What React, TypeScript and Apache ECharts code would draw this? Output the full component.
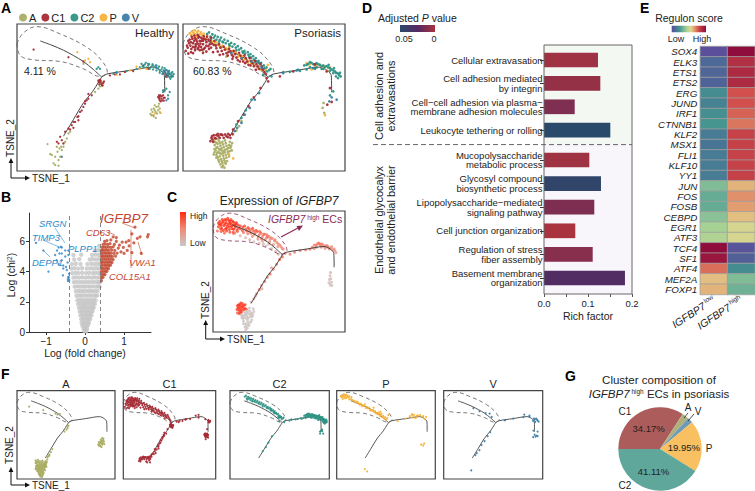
import React, { useEffect, useRef } from "react";
import * as echarts from "echarts";

const FONT = "Liberation Sans";
const clusterNames = ["A", "C1", "C2", "P", "V"];
const clusterColors = ["#a9ad63", "#a52a34", "#2f9385", "#f6b23c", "#3d7fa8"];

const trajUpper = [[70,392],[105,379],[140,364],[170,348],[200,330],[230,306],[255,283]];
const trajLower = [[255,283],[228,240],[200,205],[170,155],[140,105]];
const trajRight = [[255,283],[270,292],[340,303],[408,313],[432,303],[444,287],[445,237]];
const hull = [[0,383],[18,415],[60,435],[130,413],[210,373],[255,333],[272,298],[250,285],[200,308],[130,330],[50,335],[10,348],[0,383]];

const healthyA = [[92,81],[100,51],[105,48],[110,23],[115,18],[125,16],[115,43],[122,58],[135,63],[130,43],[125,33],[140,83],[145,88],[155,113],[160,118],[150,98],[133,73],[140,73],[128,68],[120,73],[410,168],[415,183],[420,193],[408,178],[425,183],[415,198],[422,173],[430,188],[412,188],[405,168],[428,203],[250,263],[245,248],[255,268],[235,238],[250,255],[200,323],[402,172],[412,165],[418,178],[426,195],[405,185],[432,175],[418,160]];
const healthyC1 = [[50,366],[155,343],[200,330],[245,273],[250,268],[255,263],[260,265],[248,261],[225,228],[215,218],[210,213],[200,193],[190,178],[182,163],[175,148],[165,138],[185,153],[155,128],[145,118],[130,103],[120,88],[135,93],[140,83],[125,83],[170,148],[205,203],[280,288],[295,291],[310,291],[325,298],[350,301],[380,318],[395,308],[430,223],[435,218],[440,228],[428,218],[445,221],[450,288],[452,285],[448,291],[430,213],[438,213],[425,223],[432,228],[442,220],[436,225],[428,228],[433,210],[442,212],[454,288],[449,284],[456,292],[446,296],[252,272],[258,258],[246,268],[262,270],[256,258],[250,275],[215,232],[205,210],[195,182],[185,165],[170,130],[160,125]];
const healthyC2 = [[375,323],[385,321],[395,318],[405,315],[415,313],[425,310],[435,306],[445,301],[455,298],[465,295],[468,288],[460,283],[450,293],[440,298],[420,303],[400,308],[382,313],[370,313],[460,291],[455,285],[465,283],[300,298],[290,293],[330,301],[250,308],[245,313],[240,308],[445,243],[455,228],[440,238],[450,248],[410,318],[430,302],[390,312],[360,308],[378,316],[388,326],[398,322],[408,322],[418,318],[428,315],[438,312],[448,305],[458,302],[468,298],[472,292],[470,285],[462,278],[455,292],[445,310],[430,296],[410,306]];
const healthyP = [[182,358],[215,338],[220,328],[205,333],[340,303],[370,308],[390,308],[430,178],[415,173],[360,315],[300,290]];
const healthyV = [[460,238],[455,218],[450,213],[135,43],[300,295],[395,323],[420,318],[457,298],[465,288],[440,243],[420,312],[445,298],[452,303],[438,292],[460,293],[448,287],[442,303]];

const psoriasisA = [[60,363],[130,345],[190,328],[212,325],[92,93],[100,85],[108,90],[118,88],[128,84],[138,78],[95,78],[103,72],[112,76],[122,72],[132,66],[142,70],[98,62],[106,58],[115,62],[125,56],[135,52],[100,48],[110,44],[120,46],[130,40],[106,34],[116,30],[124,32],[112,20],[120,16],[128,22],[92,50],[140,60],[147,84],[94,66],[110,66],[121,60],[114,52],[104,82],[126,92],[150,110],[160,122],[168,135],[175,150],[423,175],[418,190],[421,205],[96,88],[104,96],[112,84],[120,80],[130,76],[136,70],[144,76],[100,70],[108,66],[116,68],[126,64],[134,58],[94,56],[102,54],[110,54],[120,54],[128,48],[138,44],[146,62],[104,42],[114,36],[122,38],[132,30],[108,28],[118,24],[126,26],[116,12],[124,10],[100,40],[140,88]];
const psoriasisC1 = [[8,362],[12,378],[20,396],[25,368],[30,385],[36,400],[36,372],[42,390],[48,378],[48,405],[55,392],[56,366],[60,382],[64,398],[66,372],[70,388],[72,405],[76,376],[26,405],[18,385],[38,382],[50,392],[44,368],[60,392],[82,392],[84,372],[92,380],[100,370],[108,382],[116,362],[122,375],[130,355],[138,368],[146,350],[152,362],[160,342],[168,356],[176,338],[184,348],[192,330],[200,340],[208,325],[216,332],[224,315],[232,322],[240,305],[248,292],[70,360],[90,358],[110,350],[30,355],[250,280],[255,270],[95,100],[100,108],[106,105],[115,110],[122,100],[130,105],[135,112],[142,100],[82,90],[90,88],[87,105],[150,125],[165,150],[182,170],[196,195],[212,222],[232,250],[290,285],[330,300],[395,322],[430,300],[440,250],[432,200],[445,208],[14,372],[22,378],[30,374],[38,376],[46,372],[54,374],[62,368],[70,378],[78,368],[86,384],[16,392],[24,388],[34,392],[44,384],[52,384],[58,398],[68,396],[76,396],[84,402],[28,398],[40,396],[46,402],[54,402],[62,406],[34,408],[44,410],[80,382],[94,392],[98,378],[50,364],[36,364],[24,358],[60,356],[16,354],[104,360],[112,372],[126,366],[134,348],[142,360],[150,345],[156,352],[164,334],[172,348],[180,330],[188,340],[196,320],[204,332],[212,316],[220,322],[228,308],[236,314],[244,298],[120,352],[136,358],[148,338],[170,330],[186,325],[202,318],[218,305],[85,100],[92,108],[98,98],[110,100],[118,108],[126,110],[134,102],[140,108],[148,112],[88,95],[104,112],[112,110]];
const psoriasisC2 = [[72,413],[82,405],[92,402],[100,396],[110,395],[118,390],[128,385],[138,382],[148,375],[158,372],[168,366],[178,360],[186,354],[196,350],[204,342],[212,336],[220,330],[228,325],[236,316],[244,310],[252,300],[262,308],[265,285],[240,290],[205,215],[175,160],[188,183],[160,140],[363,318],[375,323],[385,326],[395,320],[405,322],[415,316],[425,314],[435,312],[445,306],[455,300],[462,295],[468,288],[458,285],[450,295],[440,302],[420,308],[400,312],[380,313],[300,298],[320,299],[345,305],[450,240],[440,228],[78,418],[88,412],[96,408],[104,404],[114,402],[124,396],[134,392],[144,386],[154,382],[164,376],[174,370],[184,362],[194,358],[202,352],[210,346],[218,340],[226,332],[234,326],[242,318],[250,312],[258,304],[120,388],[140,378],[160,364],[180,356],[198,344],[216,330],[236,308],[84,398],[108,390],[370,320],[380,328],[390,322],[400,325],[410,320],[420,318],[430,316],[440,310],[450,303],[458,296],[466,292],[472,285],[464,280],[470,296],[452,310],[436,320],[415,308],[395,308],[370,306],[350,302]];
const psoriasisP = [[25,410],[32,415],[42,418],[50,412],[58,410],[40,406],[30,402],[70,400],[78,396],[88,390],[98,388],[108,378],[118,378],[128,370],[138,374],[148,362],[158,358],[168,348],[178,346],[188,340],[198,332],[208,330],[218,322],[228,316],[238,310],[248,305],[254,320],[72,410],[62,400],[370,325],[380,322],[395,318],[410,320],[425,315],[440,312],[432,302],[385,306],[425,168],[150,38],[138,50],[20,415],[28,420],[36,424],[46,422],[54,418],[62,414],[36,412],[46,406],[84,392],[94,384],[104,384],[114,372],[124,366],[134,366],[144,356],[154,354],[164,344],[174,342],[184,336],[194,328],[204,324],[214,316],[224,310],[234,304],[244,298],[400,318],[418,312],[372,320]];
const psoriasisV = [[145,355],[175,340],[205,330],[225,328],[235,312],[175,145],[185,170],[200,190],[215,215],[228,235],[155,120],[162,130],[390,310],[445,222],[438,210],[460,215],[300,295],[340,303]];

const exprLow = [[110,50,.05],[118,70,.05],[126,56,.05],[134,66,.05],[142,56,.05],[104,62,.05],[112,30,.05],[122,22,.05],[130,28,.05],[138,36,.05],[116,60,.05],[128,78,.05],[140,68,.05],[120,8,.05],[146,60,.05],[150,75,.05],[106,52,.05],[433,195,.1],[426,180,.1],[431,172,.1]];
const exprPts = [
[108,60,.05],[115,52,.05],[122,62,.05],[130,50,.05],[138,58,.05],[112,40,.05],[120,30,.05],[128,38,.05],[118,18,.05],[126,14,.05],[106,72,.08],[116,76,.05],[126,70,.05],[136,76,.05],[145,68,.05],[148,85,.05],[132,24,.05],[142,44,.05],[124,48,.05],[134,88,.05],
[430,206,.1],[435,182,.1],[428,192,.1],[437,170,.05],[432,218,.2],[140,110,.15],[150,122,.3],
[120,345,.15],[150,330,.1],[170,325,.1],[195,315,.1],[215,305,.15],[100,352,.2],[75,360,.25],[135,338,.2],[185,322,.15],[230,295,.2],[240,285,.2],
[160,140,.5],[170,155,.6],[178,170,.45],[190,185,.65],[200,200,.5],[210,212,.7],[222,230,.55],[234,248,.6],[245,265,.8],[255,275,.7],[265,288,.6],[156,132,.2],[180,158,.25],[215,235,.3],
[283,285,.55],[300,292,.6],[320,298,.5],[340,300,.55],[356,303,.6],[372,318,.5],[384,322,.65],[393,322,.7],[405,318,.5],[415,316,.55],[423,310,.6],[432,308,.45],[440,302,.5],[448,297,.45],[398,310,.35],[412,306,.4],[380,310,.4],
[258,303,.5],[250,312,.45],[240,322,.55],[234,328,.5],[226,334,.55],[218,342,.5],[210,340,.45],[205,350,.6],[196,345,.5],[198,356,.65],[190,358,.6],[182,350,.55],[176,362,.7],[170,356,.6],[163,368,.75],[155,362,.6],[149,370,.8],[142,376,.7],[135,370,.7],[128,382,.8],[120,376,.75],[110,384,.85],[100,388,.85],[92,380,.85],
[20,385,.9],[27,395,1],[32,380,.9],[38,405,1],[40,390,1],[46,378,1],[48,400,1],[52,388,1],[58,408,1],[60,375,.95],[63,398,1],[68,386,1],[72,405,1],[76,376,1],[80,392,1],[86,400,1],[88,372,.95],[44,412,.9],[54,416,.95],[66,412,.9],[30,368,.8],[16,370,.7],[42,362,.7],[25,405,.9],
[94,100,1],[98,90,1],[104,82,1],[110,94,1],[116,86,1],[100,72,.95],[118,100,.9],[96,80,1],[108,104,.9],[122,84,.9],[90,70,.7]
];
const exprMid = [[100,378,.8],[108,372,.8],[116,388,.85],[124,370,.75],[132,378,.8],[140,362,.7],[146,380,.8],[152,358,.7],[158,372,.8],[166,348,.6],[172,368,.75],[178,340,.55],[186,358,.7],[192,338,.55],[200,348,.65],[208,330,.5],[214,345,.55],[222,320,.45],[228,338,.55],[238,312,.45],[246,318,.5],[254,306,.45],[112,364,.65],[128,360,.6],[145,350,.5],[165,340,.4],[205,322,.3],[182,332,.35],[90,368,.7],[80,362,.55],[365,310,.55],[378,318,.6],[388,326,.65],[400,322,.6],[410,312,.5],[420,316,.6],[428,304,.5],[436,312,.5],[445,304,.45],[452,290,.35],[395,316,.6],[372,305,.45]];
const exprHigh = [[22,395,1],[30,390,1],[34,400,1],[44,395,1],[50,380,1],[56,395,1],[60,385,1],[66,395,1],[70,378,1],[74,392,1],[82,384,1],[84,395,1],[92,392,.95],[28,378,.95],[38,372,.95],[50,370,.95],[62,365,.85],[74,365,.85],[20,400,.85],[34,412,.95],[48,410,1],[62,405,1],[76,402,1],[92,88,1],[100,100,1],[106,92,1],[112,82,.95],[96,68,.9],[104,74,.9],[88,82,.85],[90,96,1],[114,98,.9],[102,106,.9]];

const volcanoGrey = [[-.02,.05],[.03,.05],[-.04,.2],[0,.22],[.05,.2],[-.07,.4],[-.02,.42],[.03,.4],[.07,.42],[-.09,.6],[-.04,.62],[.01,.6],[.06,.62],[.1,.6],[-.1,.85],[-.05,.87],[0,.85],[.05,.87],[.09,.85],[.13,.86],[-.12,1.1],[-.07,1.12],[-.02,1.1],[.03,1.12],[.08,1.1],[.13,1.12],[.16,1.1],[-.14,1.35],[-.09,1.37],[-.04,1.35],[.01,1.37],[.06,1.35],[.11,1.37],[.16,1.35],[.19,1.36],[-.16,1.6],[-.1,1.62],[-.05,1.6],[0,1.62],[.05,1.6],[.1,1.62],[.15,1.6],[.2,1.62],[.22,1.6],[-.18,1.85],[-.12,1.87],[-.06,1.85],[-.01,1.87],[.05,1.85],[.11,1.87],[.16,1.85],[.21,1.87],[.25,1.85],[-.2,2.1],[-.14,2.12],[-.08,2.1],[-.02,2.12],[.04,2.1],[.1,2.12],[.16,2.1],[.22,2.12],[.27,2.1],[-.22,2.4],[-.16,2.42],[-.1,2.4],[-.04,2.42],[.03,2.4],[.09,2.42],[.15,2.4],[.21,2.42],[.27,2.4],[.31,2.42],[-.24,2.7],[-.17,2.72],[-.11,2.7],[-.05,2.72],[.01,2.7],[.08,2.72],[.14,2.7],[.2,2.72],[.26,2.7],[.32,2.72],[-.27,3],[-.2,3.02],[-.13,3],[-.06,3.02],[0,3],[.07,3.02],[.13,3],[.2,3.02],[.27,3],[.33,3.02],[.37,3],[-.29,3.3],[-.22,3.32],[-.14,3.3],[-.07,3.32],[0,3.3],[.07,3.32],[.14,3.3],[.21,3.32],[.28,3.3],[.34,3.32],[.38,3.3],[-.3,3.6],[-.23,3.62],[-.15,3.6],[-.07,3.62],[.01,3.6],[.09,3.62],[.17,3.6],[.24,3.62],[.31,3.6],[.38,3.62],[-.33,3.9],[-.25,3.92],[-.17,3.9],[-.08,3.92],[.02,3.9],[.1,3.92],[.19,3.9],[.26,3.92],[.33,3.9],[.38,3.92],[-.35,4.2],[-.27,4.22],[-.18,4.2],[-.08,4.22],[.04,4.2],[.13,4.22],[.21,4.2],[.29,4.22],[.36,4.2],[-.34,4.5],[-.24,4.52],[-.12,4.5],[.06,4.5],[.16,4.52],[.24,4.5],[.32,4.52],[.38,4.5],[-.28,4.8],[-.15,4.82],[.12,4.8],[.2,4.82],[.28,4.8],[.36,4.82],[-.3,5.1],[-.1,5.12],[.18,5.1],[.27,5.12],[.35,5.1],[.25,5.4],[.33,5.42],[.38,5.4],[.36,5.7]];
const volcanoRed = [[.42,3.4],[.42,3.6],[.46,3.62],[.42,3.8],[.47,3.82],[.51,3.8],[.42,4],[.47,4.02],[.52,4],[.56,4.02],[.42,4.2],[.46,4.22],[.51,4.2],[.56,4.22],[.6,4.2],[.42,4.4],[.47,4.42],[.52,4.4],[.56,4.42],[.61,4.4],[.65,4.42],[.42,4.6],[.46,4.62],[.51,4.6],[.56,4.62],[.6,4.6],[.65,4.62],[.69,4.6],[.42,4.8],[.47,4.82],[.52,4.8],[.57,4.82],[.62,4.8],[.67,4.82],[.72,4.8],[.42,5],[.46,5.02],[.51,5],[.56,5.02],[.6,5],[.65,5.02],[.7,5],[.78,5.02],[.42,5.2],[.47,5.22],[.52,5.2],[.57,5.22],[.62,5.2],[.67,5.22],[.74,5.2],[.82,5.22],[.42,5.4],[.46,5.42],[.51,5.4],[.56,5.42],[.61,5.4],[.68,5.42],[.76,5.4],[.44,5.6],[.49,5.62],[.54,5.6],[.6,5.62],[.66,5.6],[.72,5.64],[.85,5.55],[.92,5.3],[1,5.2],[.46,5.8],[.52,5.82],[.58,5.8],[.64,5.85],[.75,5.8],[.88,5.75],[.98,5.6],[1.08,5.4],[.5,6],[.56,6.05],[.66,6.1],[.8,6],[.95,5.95],[.72,6.3],[.8,6.25],[1.13,5.7],[1.05,5.95],[1.2,5.25],[1.25,5.9],[1.41,6.3],[1.34,6.2],[1.28,6.95],[1.62,6.45],[1.6,6.3],[1.2,6.5],[1.12,6.05],[1.44,5.2]];
const volcanoBlue = [[-1.26,5.9],[-1.07,5.4],[-.94,4],[-.68,5.6],[-.6,5.6],[-.77,5.1],[-.73,4.75],[-.68,4.5],[-.6,4.75],[-.51,5],[-.43,5.4],[-.51,5.4],[-.56,4.4],[-.49,4.3],[-.57,3.75],[-.56,4.2],[-.43,3.65],[-.41,3.42],[-.44,3.38],[-.41,3.86],[-.47,4.1],[-.6,5.2],[-.66,5.2],[-.43,5.1],[-.62,5.65],[-.44,3.5],[-.42,3.6],[-.45,4.6],[-.72,5.4]];

const barTopNames = ["Cellular extravasation","Cell adhesion mediated\nby integrin","Cell\u2212cell adhesion via plasma\u2212\nmembrane adhesion molecules","Leukocyte tethering or rolling"];
const barTopValues = [.1227,.128,.0698,.1507];
const barTopP = [.003,.006,.0125,.05];
const barBottomNames = ["Mucopolysaccharide\nmetabolic process","Glycosyl compound\nbiosynthetic process","Lipopolysaccharide\u2212mediated\nsignaling pathway","Cell junction organization","Regulation of stress\nfiber assembly","Basement membrane\norganization"];
const barBottomValues = [.103,.1295,.1143,.0711,.1107,.184];
const barBottomP = [.003,.046,.013,0,.01,.027];

const genes = ["SOX4","ELK3","ETS1","ETS2","ERG","JUND","IRF1","CTNNB1","KLF2","MSX1","FLI1","KLF10","YY1","JUN","FOS","FOSB","CEBPD","EGR1","ATF3","TCF4","SF1","ATF4","MEF2A","FOXP1"];
const scoreLow = [0,.09,.08,.07,.2,.17,.21,.23,.15,.13,.15,.15,.15,.36,.3,.3,.38,.44,.46,1,.96,.73,.6,.62];
const scoreHigh = [1,.87,.89,.89,.78,.78,.75,.72,.82,.82,.82,.82,.82,.62,.68,.66,.6,.53,.53,.02,.06,.2,.36,.32];
const spectral = ["#5b4f9b","#4a6f96","#44938f","#74b596","#a8d295","#e3d68e","#e2996e","#d2504c","#ac2a42","#8e0d3c"];

const pieNames = ["C1","A","V","P","C2"];
const pieValues = [34.17,2.6,2.17,19.95,41.11];
const pieColors = ["#ad5c5c","#b0b07c","#6d9ab5","#f8c060","#5fa79b"];
const pieShown = ["34.17%","","","19.95%","41.11%"];

const fPanels = [[17,115],[123.3,215.7],[230,329.3],[336.7,435.3],[443.7,542.7]];

function t(text: string, x: number, y: number, o: any = {}) {
  const { rotation, ...st } = o;
  return {
    type: "text", x, y, z: 100, rotation: rotation || 0, silent: true,
    style: { text, fontFamily: FONT, fontSize: 10, fill: "#222", align: "left", verticalAlign: "middle", textAlign: st.align || "left", textVerticalAlign: "middle", ...st },
  };
}
function ln(x1: number, y1: number, x2: number, y2: number, stroke = "#222", lineWidth = 0.8) {
  return { type: "line", z: 100, silent: true, shape: { x1, y1, x2, y2 }, style: { stroke, lineWidth } };
}
function arrowHead(x: number, y: number, dir: string, fill = "#111") {
  const s = 2.4, l = 5;
  const pts = dir === "up" ? [[x, y - l], [x - s, y], [x + s, y]] : [[x + l, y], [x, y - s], [x, y + s]];
  return { type: "polygon", z: 100, silent: true, shape: { points: pts }, style: { fill } };
}
function axesCross(x: number, y: number, top: number, right: number, t2y: number, t2x: number) {
  return [ln(x, y, x, top + 5, "#111", 1), ln(x, y, right - 5, y, "#111", 1), arrowHead(x, top + 5, "up"), arrowHead(right - 5, y, "right"),
    t("TSNE_2", t2x, t2y, { rotation: Math.PI / 2, align: "center", fontSize: 10 }), t("TSNE_1", right + 2, y, { fontSize: 10 })];
}
const panelLetter = (s: string, x: number, y: number) => t(s, x, y, { fontSize: 14, fontWeight: "bold", fill: "#000" });

export default function App() {
  const ref = useRef<HTMLDivElement>(null);
  useEffect(() => {
    document.body.style.margin = "0";
    const chart = echarts.init(ref.current!, undefined, { renderer: "svg" });
    const grids: any[] = [], xAxes: any[] = [], yAxes: any[] = [], series: any[] = [];
    const frame = { show: true, borderColor: "#444", borderWidth: 1.2, backgroundColor: "transparent" };
    const addTsne = (left: number, right: number, top: number, bottom: number) => {
      grids.push({ ...frame, left, top, width: right - left, height: bottom - top });
      xAxes.push({ type: "value", show: false, min: 0, max: 485, gridIndex: grids.length - 1 });
      yAxes.push({ type: "value", show: false, min: 0, max: 443, gridIndex: grids.length - 1 });
      return grids.length - 1;
    };
    const addPath = (g: number, hullColor: string, lw = 1) => {
      [trajUpper, trajLower, trajRight].forEach((d, i) => series.push({ type: "line", name: "trajectory" + i, xAxisIndex: g, yAxisIndex: g, data: d, smooth: 0.3, showSymbol: false, symbol: "none", lineStyle: { color: "#444", width: lw }, z: 3, silent: true }));
      series.push({ type: "line", name: "region", xAxisIndex: g, yAxisIndex: g, data: hull, smooth: 0.4, showSymbol: false, symbol: "none", lineStyle: { color: hullColor, width: 0.8, type: [4, 3] }, z: 4, silent: true });
    };
    const addCell = (g: number, i: number, d: number[][], size: number) => {
      series.push({ type: "scatter", name: clusterNames[i], xAxisIndex: g, yAxisIndex: g, data: d, symbolSize: size, itemStyle: { color: clusterColors[i], opacity: 0.95 }, z: 5, silent: true });
    };
    const healthy = [healthyA, healthyC1, healthyC2, healthyP, healthyV];
    const psoriasis = [psoriasisA, psoriasisC1, psoriasisC2, psoriasisP, psoriasisV];

    const g0 = addTsne(17, 178, 24, 171);
    [0, 1, 2, 3, 4].forEach((i) => addCell(g0, i, healthy[i], 2.3));
    addPath(g0, "#555");
    const g1 = addTsne(183, 345, 24, 171);
    [0, 3, 2, 1, 4].forEach((i) => addCell(g1, i, psoriasis[i], 2.7));
    addPath(g1, "#555");

    // volcano
    grids.push({ left: 29, top: 213, width: 122, height: 119 });
    const gB = grids.length - 1;
    xAxes.push({ type: "value", gridIndex: gB, min: -1.44, max: 1.69, splitLine: { show: false }, axisLine: { onZero: false, lineStyle: { color: "#333" } }, axisTick: { length: 3, customValues: [-1, 0, 1], lineStyle: { color: "#333" } }, axisLabel: { customValues: [-1, 0, 1], fontSize: 10, color: "#222", margin: 4, fontFamily: FONT, formatter: (v: number) => (v < 0 ? "\u2212" + -v : "" + v) } });
    yAxes.push({ type: "value", gridIndex: gB, min: 0, max: 7.88, splitLine: { show: false }, axisLine: { show: true, onZero: false, lineStyle: { color: "#333" } }, axisTick: { show: true, length: 3, customValues: [0, 2, 4, 6], lineStyle: { color: "#333" } }, axisLabel: { customValues: [0, 2, 4, 6], fontSize: 10, color: "#222", margin: 4, fontFamily: FONT } });
    series.push({ type: "scatter", name: "Not significant", xAxisIndex: gB, yAxisIndex: gB, data: volcanoGrey, symbolSize: 4.4, itemStyle: { color: "#c6c6c6" }, z: 2, silent: true,
      markLine: { silent: true, symbol: "none", label: { show: false }, lineStyle: { color: "#777", type: [4, 3], width: 0.9 }, data: [{ xAxis: -0.4 }, { xAxis: 0.4 }] } });
    series.push({ type: "scatter", name: "Up", xAxisIndex: gB, yAxisIndex: gB, data: volcanoRed, symbolSize: 3.2, itemStyle: { color: "#c0432a" }, z: 3, silent: true });
    series.push({ type: "scatter", name: "Down", xAxisIndex: gB, yAxisIndex: gB, data: volcanoBlue, symbolSize: 2.4, itemStyle: { color: "#2b84c6" }, z: 3, silent: true });

    // expression
    const gC = addTsne(213, 345, 211, 332);
    addPath(gC, "#8b2a57");
    const exprIndex = series.length;
    series.push({ type: "scatter", name: "Expression", xAxisIndex: gC, yAxisIndex: gC, data: exprLow.concat(exprPts, exprMid, exprHigh), symbolSize: 3, z: 2, silent: true });

    // bars
    const barGrid = (top: number, height: number, names: string[], last: boolean) => {
      grids.push({ left: 544, top, width: 88, height });
      const g = grids.length - 1;
      xAxes.push({
        type: "value", gridIndex: g, min: 0, max: 0.2, interval: 0.05, show: last, offset: last ? 4.2 : 0, splitLine: { show: false },
        axisLine: { show: false }, axisTick: { show: true, length: 3, lineStyle: { color: "#555" } },
        axisLabel: { fontSize: 9.5, color: "#222", margin: 4, fontFamily: FONT, formatter: (v: number) => (Math.round(v * 100) % 10 === 0 ? v.toFixed(1) : "") },
        name: "Rich factor", nameLocation: "middle", nameGap: 16, nameTextStyle: { fontSize: 10.5, color: "#222", fontFamily: FONT },
      });
      yAxes.push({
        type: "category", gridIndex: g, inverse: true, data: names, axisLine: { show: false },
        axisTick: { show: true, length: 4, alignWithLabel: true, lineStyle: { color: "#333" } },
        axisLabel: { fontSize: 9.5, lineHeight: 9.6, color: "#222", margin: 1.5, align: "right", fontFamily: FONT, interval: 0 },
      });
      return g;
    };
    const gD1 = barGrid(48.3, 93.6, barTopNames, false);
    const gD2 = barGrid(148.2, 141.6, barBottomNames, true);
    const barIndex = [series.length, series.length + 1];
    series.push({ type: "bar", name: "Adhesion", xAxisIndex: gD1, yAxisIndex: gD1, barWidth: 14.7, z: 2, silent: true, encode: { x: 0, y: 1 }, data: barTopValues.map((v, i) => [v, barTopNames[i], barTopP[i]]) });
    series.push({ type: "bar", name: "Barrier", xAxisIndex: gD2, yAxisIndex: gD2, barWidth: 14.7, z: 2, silent: true, encode: { x: 0, y: 1 }, data: barBottomValues.map((v, i) => [v, barBottomNames[i], barBottomP[i]]) });

    // heatmap
    grids.push({ left: 700.3, top: 46.5, width: 54.5, height: 248 });
    const gE = grids.length - 1;
    const heatCats = ["low", "high"];
    xAxes.push({ type: "category", gridIndex: gE, data: heatCats, axisLine: { show: false }, axisTick: { show: false },
      axisLabel: { interval: 0, rotate: 33, margin: 4, formatter: (v: string) => "{i|IGFBP7}{s| " + v + "}", rich: { i: { fontStyle: "italic", fontSize: 10.5, color: "#222", fontFamily: FONT }, s: { fontSize: 6.5, color: "#222", verticalAlign: "top", fontFamily: FONT, padding: [0, 0, 6, 0] } } } });
    yAxes.push({ type: "category", gridIndex: gE, inverse: true, data: genes, axisLine: { show: false }, axisTick: { show: false },
      axisLabel: { interval: 0, fontStyle: "italic", fontSize: 9.8, color: "#222", margin: 3, fontFamily: FONT } });
    const heatIndex = series.length;
    const heatData: number[][] = [];
    genes.forEach((_, i) => { heatData.push([0, i, scoreLow[i]]); heatData.push([1, i, scoreHigh[i]]); });
    series.push({ type: "heatmap", name: "Regulon", xAxisIndex: gE, yAxisIndex: gE, data: heatData, itemStyle: { borderColor: "#a0a0a0", borderWidth: 0.8 }, silent: true });

    // F panels
    fPanels.forEach(([l, r], i) => {
      const g = addTsne(l, r, 390.7, 479);
      addPath(g, "#555", 0.9);
      addCell(g, i, healthy[i].concat(psoriasis[i]), 2);
    });

    // pie
    series.push({ type: "pie", name: "Cluster composition", center: [660, 449], radius: 41.7, startAngle: 180, clockwise: true, silent: true, z: 2,
      data: pieNames.map((n, i) => ({ name: n, value: pieValues[i], itemStyle: { color: pieColors[i] }, label: { show: !!pieShown[i], formatter: pieShown[i] } })),
      label: { position: "inside", fontSize: 9.5, color: "#222", fontFamily: FONT }, labelLine: { show: false } });

    const lin = (a: number[], stops: string[]) => new echarts.graphic.LinearGradient(a[0], a[1], a[2], a[3], stops.map((c, i) => ({ offset: i / (stops.length - 1), color: c })));
    const graphics: any[] = [
      { type: "rect", z: -10, silent: true, shape: { x: 544, y: 45, width: 88, height: 99.5 }, style: { fill: "#f3f8f2" } },
      { type: "rect", z: -10, silent: true, shape: { x: 544, y: 144.5, width: 88, height: 149.5 }, style: { fill: "#f9f6fb" } },
      { type: "rect", z: 50, silent: true, shape: { x: 544, y: 45, width: 88, height: 249 }, style: { fill: "none", stroke: "#6b6666", lineWidth: 1 } },
      { type: "line", z: 60, silent: true, shape: { x1: 373, y1: 144.6, x2: 632, y2: 144.6 }, style: { stroke: "#666", lineWidth: 1, lineDash: [5, 3] } },
      panelLetter("A", 1, 8), panelLetter("B", 1, 197), panelLetter("C", 167, 197), panelLetter("D", 362, 8), panelLetter("E", 640, 8), panelLetter("F", 1, 374), panelLetter("G", 565, 376),
      t("Healthy", 174, 33, { align: "right", fontSize: 11.5 }), t("Psoriasis", 341, 33, { align: "right", fontSize: 11.5 }),
      t("4.11 %", 24, 71, { fontSize: 10.5 }), t("60.83 %", 193, 71, { fontSize: 10.5 }),
      ...axesCross(11, 178, 158, 30, 138, 10),
      ...axesCross(205.7, 339, 320, 225, 300, 205.7),
      ...axesCross(11, 485, 467, 30, 445, 9.5),
      t("{a|Log (chi}{s|2}{a|)}", 11, 275, { rotation: Math.PI / 2, align: "center", rich: { a: { fontSize: 10.5, fill: "#222", fontFamily: FONT }, s: { fontSize: 6.5, fill: "#222", fontFamily: FONT, verticalAlign: "top" } } }),
      t("Log (fold change)", 85, 353, { align: "center", fontSize: 10.5 }),
      t("IGFBP7", 100, 218, { fontStyle: "italic", fontSize: 13.5, fill: "#c4452f" }), ln(122, 223, 135, 228, "#c4452f", 0.6),
      t("CD63", 86, 232, { fontStyle: "italic", fontSize: 9.5, fill: "#c4452f" }), ln(108, 232, 115, 235, "#c4452f", 0.6),
      t("VWA1", 129, 262, { fontStyle: "italic", fontSize: 9.5, fill: "#c4452f" }), ln(142, 255, 138, 242, "#c4452f", 0.6),
      t("COL15A1", 109, 276, { fontStyle: "italic", fontSize: 9.5, fill: "#c4452f" }), ln(131, 268, 131, 230, "#c4452f", 0.6),
      t("SRGN", 39, 223, { fontStyle: "italic", fontSize: 9.5, fill: "#2a8ccc" }), ln(55, 228, 65, 243, "#2a8ccc", 0.6),
      t("TIMP3", 32, 237, { fontStyle: "italic", fontSize: 9.5, fill: "#2a8ccc" }), ln(43, 240, 59, 247, "#2a8ccc", 0.6),
      t("PLPP1", 68, 248, { fontStyle: "italic", fontSize: 9.5, fill: "#2a8ccc" }),
      t("DEPP1", 32, 262, { fontStyle: "italic", fontSize: 9.5, fill: "#2a8ccc" }), ln(43, 250, 50, 257, "#2a8ccc", 0.6),
      t("{a|Expression of }{b|IGFBP7}", 279, 201, { align: "center", rich: { a: { fontSize: 12, fill: "#222", fontFamily: FONT }, b: { fontSize: 12, fontStyle: "italic", fill: "#222", fontFamily: FONT } } }),
      { type: "rect", z: 50, silent: true, shape: { x: 180, y: 212, width: 6, height: 34 }, style: { fill: lin([0, 0, 0, 1], ["#ff2a10", "#f08a78", "#c8c8c8"]) } },
      t("High", 190, 216, { fontSize: 8.5 }), t("Low", 190, 243, { fontSize: 8.5 }),
      t("{i|IGFBP7}{s| high}{a| ECs}", 268, 219, { rich: { i: { fontSize: 10.5, fontStyle: "italic", fill: "#8b2a57", fontFamily: FONT }, s: { fontSize: 6.5, fill: "#8b2a57", verticalAlign: "top", fontFamily: FONT }, a: { fontSize: 10.5, fill: "#8b2a57", fontFamily: FONT } } }),
      ln(281, 237, 298, 228, "#8b2a57", 1.2),
      { type: "polygon", z: 100, silent: true, shape: { points: [[303, 225.5], [296.5, 226], [299, 231]] }, style: { fill: "#8b2a57" } },
      t("{a|Adjusted }{i|P}{a| value}", 378, 18, { rich: { a: { fontSize: 10.5, fill: "#222", fontFamily: FONT }, i: { fontSize: 10.5, fontStyle: "italic", fill: "#222", fontFamily: FONT } } }),
      { type: "rect", z: 50, silent: true, shape: { x: 400, y: 25, width: 35, height: 7 }, style: { fill: lin([0, 0, 1, 0], ["#2a4a6b", "#552a62", "#a9333f"]) } },
      t("0.05", 404, 39, { align: "center", fontSize: 9 }), t("0", 434, 39, { align: "center", fontSize: 9 }),
      t("Cell adhesion and\nextravasations", 385, 96, { rotation: Math.PI / 2, align: "center", fontSize: 11, lineHeight: 12 }),
      t("Endothelial glycocalyx\nand endothelial barrier", 385, 220, { rotation: Math.PI / 2, align: "center", fontSize: 11, lineHeight: 12 }),
      t("Regulon score", 689, 18, { align: "center", fontSize: 10.5 }),
      { type: "rect", z: 50, silent: true, shape: { x: 671.7, y: 25.7, width: 34.3, height: 6.6 }, style: { fill: lin([0, 0, 1, 0], spectral) } },
      t("Low", 676, 39, { align: "center", fontSize: 9 }), t("High", 702, 39, { align: "center", fontSize: 9 }),
      ...fPanels.map(([l, r], i) => t(clusterNames[i], (l + r) / 2, 384, { align: "center", fontSize: 11 })),
      t("Cluster composition of", 659, 379.5, { align: "center", fontSize: 11.5 }),
      t("{i|IGFBP7}{s| high}{a| ECs in psoriasis}", 659, 393.5, { align: "center", rich: { i: { fontSize: 11.5, fontStyle: "italic", fill: "#222", fontFamily: FONT }, s: { fontSize: 6.5, fill: "#222", verticalAlign: "top", fontFamily: FONT }, a: { fontSize: 11.5, fill: "#222", fontFamily: FONT } } }),
      t("C1", 625, 411, { align: "center", fontSize: 10 }), t("A", 688, 407, { align: "center", fontSize: 10 }), t("V", 698, 411, { align: "center", fontSize: 10 }),
      t("P", 709, 448, { align: "center", fontSize: 10 }), t("C2", 625, 485, { align: "center", fontSize: 10 }),
      ln(684, 418, 688, 413), ln(688, 421, 694, 414),
    ];

    chart.setOption({
      animation: false,
      textStyle: { fontFamily: FONT },
      grid: grids, xAxis: xAxes, yAxis: yAxes, series,
      legend: { data: clusterNames, left: 14, top: 7, icon: "circle", itemWidth: 8, itemHeight: 8, itemGap: 5, selectedMode: false, textStyle: { fontSize: 11, color: "#222", fontFamily: FONT, padding: [0, 0, 0, -3] } },
      visualMap: [
        { show: false, seriesIndex: exprIndex, dimension: 2, min: 0, max: 1, inRange: { color: ["#c8c8c8", "#f08a78", "#ff3018"] } },
        { show: false, seriesIndex: barIndex, dimension: 2, min: 0, max: 0.05, inRange: { color: ["#a9333f", "#552a62", "#2a4a6b"] } },
        { show: false, seriesIndex: heatIndex, dimension: 2, min: 0, max: 1, inRange: { color: spectral } },
      ],
      graphic: { elements: graphics },
    });
    return () => chart.dispose();
  }, []);
  return <div ref={ref} style={{ width: 755, height: 491, position: "absolute", left: 0, top: 0, background: "#fff" }} />;
}
